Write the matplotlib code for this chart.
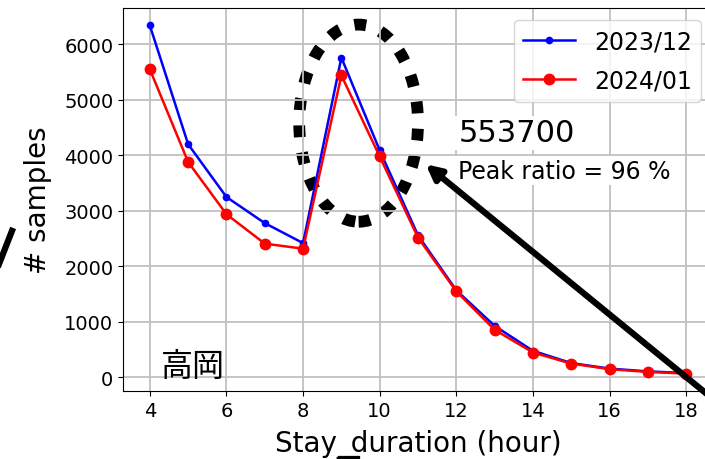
import matplotlib
matplotlib.use("Agg")
import matplotlib.pyplot as plt
from matplotlib.patches import Ellipse
from matplotlib.lines import Line2D

# data
hours = [4, 5, 6, 7, 8, 9, 10, 11, 12, 13, 14, 15, 16, 17, 18]
dec_2023 = [6340, 4200, 3250, 2780, 2420, 5760, 4090, 2560, 1570, 930, 480, 260, 160, 110, 80]
jan_2024 = [5550, 3880, 2940, 2410, 2320, 5440, 3980, 2520, 1550, 860, 450, 250, 150, 100, 70]
series_labels = ['2023/12', '2024/01']
city = '高岡'
total_text = '553700'
ratio_text = 'Peak ratio = 96 %'

fig = plt.figure(figsize=(7.05, 4.6), dpi=100)
ax = fig.add_axes([0.1745, 0.1478, 0.8368, 0.8326])

ax.plot(hours, dec_2023, color='blue', marker='.', markersize=9, lw=1.8, label=series_labels[0])
ax.plot(hours, jan_2024, color='red', marker='o', markersize=7.5, lw=1.8, label=series_labels[1])

ax.grid(True, color='#c0c0c0', lw=1.3)
ax.tick_params(labelsize=14)
ax.set_xticks([4, 6, 8, 10, 12, 14, 16, 18])
ax.set_xlabel('Stay_duration (hour)', fontsize=20, labelpad=6.5)
ax.set_ylabel('# samples', fontsize=20, labelpad=9)
ax.legend(loc='upper right', fontsize=17, handlelength=2.2, labelspacing=0.65)

# dotted ellipse round the peak
ax.add_patch(Ellipse((9.45, 4580), 3.1, 3550, fill=False, color='black',
                     lw=8.5, ls=(0, (1, 1.3))))

ax.text(12.05, 4250, total_text, fontsize=22,
        bbox=dict(facecolor='white', edgecolor='none', pad=2))
ax.text(12.05, 3600, ratio_text, fontsize=17,
        bbox=dict(facecolor='white', edgecolor='none', pad=2))
ax.text(4.3, 50, city, fontsize=23, family=['Noto Sans CJK JP', 'DejaVu Sans'])

ax.annotate('', xy=(11.2, 3840), xytext=(19.7, -950), annotation_clip=False,
            arrowprops=dict(arrowstyle='-|>', color='black', lw=4.5,
                            mutation_scale=22, shrinkA=0, shrinkB=0))

# bits of neighbouring annotations that leak into the crop
fig.add_artist(Line2D([-0.01, 0.017], [0.39, 0.496], color='black', lw=4.5))
fig.add_artist(Line2D([0.484, 0.506], [0.0, 0.0], color='black', lw=4.5))

fig.savefig('out.png', dpi=100)
